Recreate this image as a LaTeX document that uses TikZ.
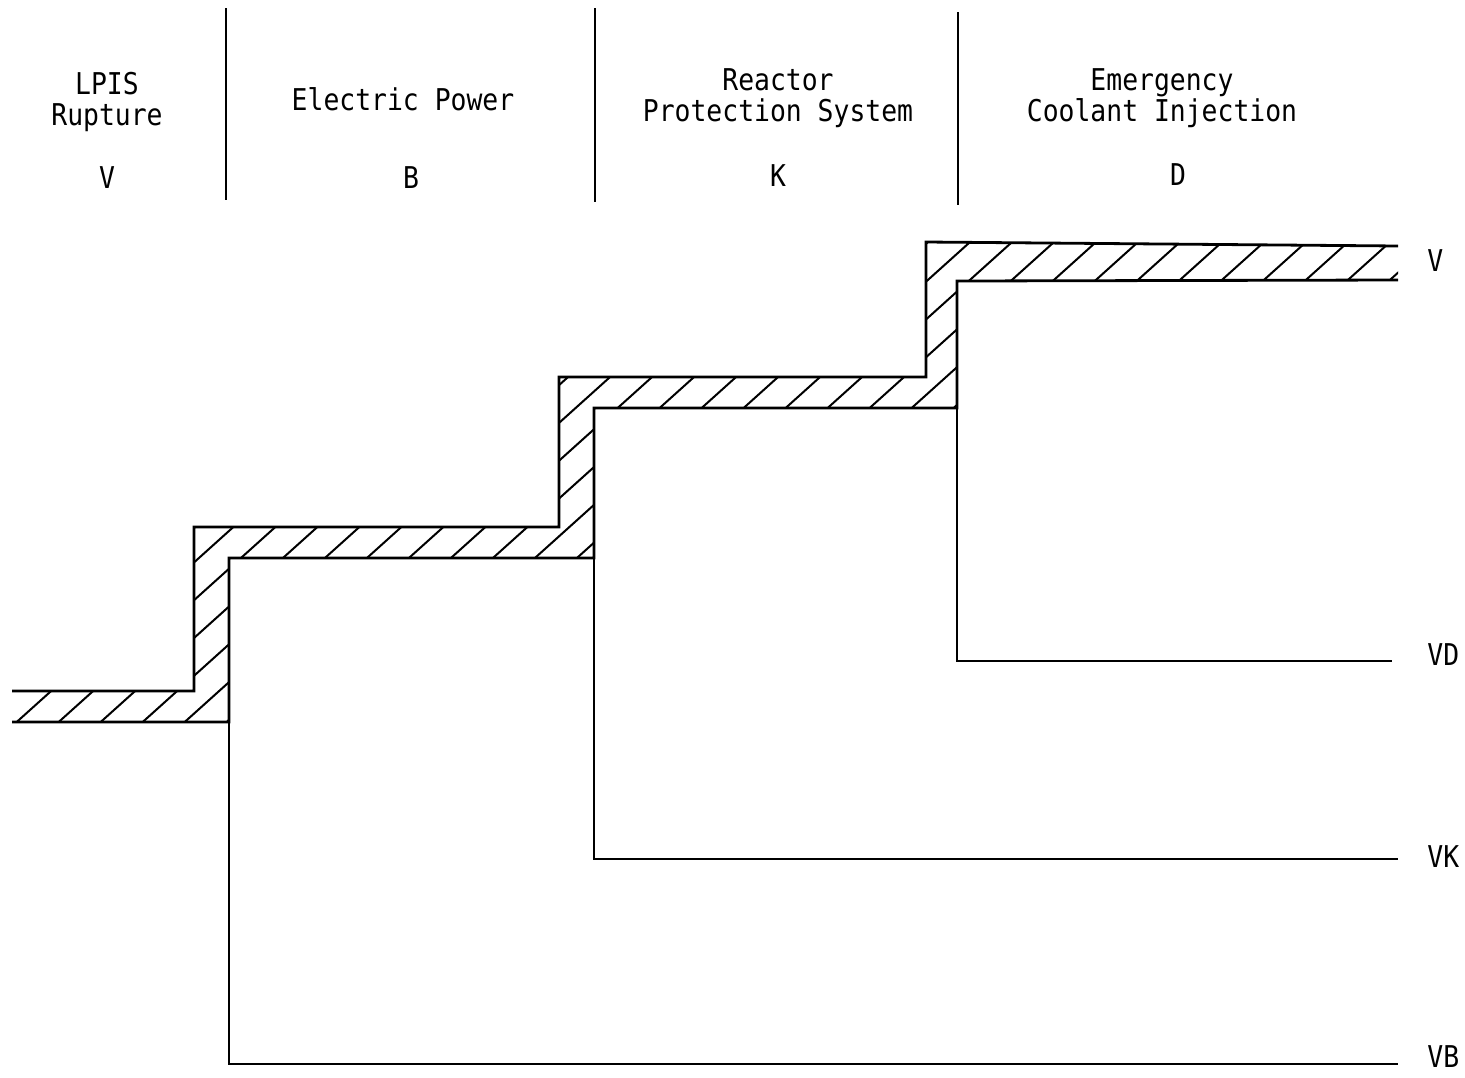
\documentclass[tikz,border=0pt]{standalone}
\usepackage{fontspec}
\setmonofont[FakeStretch=0.88]{DejaVu Sans Mono}
\usetikzlibrary{positioning}

\begin{document}
\begin{tikzpicture}[
    x=0.5pt, y=-0.5pt,
    branch/.style={line width=1.4pt},
    hatch/.style={line width=1pt},
    divider/.style={line width=1.1pt},
    head/.style={
      font=\ttfamily\fontsize{15}{15.5}\selectfont,
      align=center,
      inner sep=0pt
    },
    endlabel/.style={
      font=\ttfamily\fontsize{15}{15.5}\selectfont,
      anchor=west,
      inner sep=0pt
    }
  ]
    \useasboundingbox (0,0) rectangle (1465,1077);

    % column headings
    \node[head] (lpis) at (107,102) {LPIS\\Rupture};
    \node[head] (lpisV) at (107,178) {V};
    \node[head] (elec) at (403,99) {Electric Power};
    \node[head] (elecB) at (411,178) {B};
    \node[head] (rps) at (778,98) {Reactor\\Protection System};
    \node[head] (rpsK) at (778,176) {K};
    \node[head] (eci) at (1162,98) {Emergency\\Coolant Injection};
    \node[head] (eciD) at (1178,175) {D};

    \draw[divider] (226,8) -- (226,200);
    \draw[divider] (595,8) -- (595,202);
    \draw[divider] (958,12) -- (958,205);

    % hatched success path
    \begin{scope}
      \clip (12,691) -| (194,527) -| (559,377) -| (926,242) -- (1398,246)
        -- (1398,280) -- (957,281) |- (594,408) |- (229,558) |- (12,722) -- cycle;
      \foreach \i in {0,...,58}
        \draw[hatch] ({-994+42*\i},800) -- ++(889,-800);
    \end{scope}
    \draw[branch] (12,691) -| (194,527) -| (559,377) -| (926,242) -- (1398,246);
    \draw[branch] (12,722) -| (229,558) -| (594,408) -| (957,281) -- (1398,280);

    % branch points
    \coordinate (bB) at (229,722);
    \coordinate (bK) at (594,558);
    \coordinate (bD) at (957,408);

    % failure branches
    \draw[branch] (bB) |- (1398,1064);
    \draw[branch] (bK) |- (1398,859);
    \draw[branch] (bD) |- (1392,661);

    % sequence labels
    \node[endlabel] (seqV) at (1427,261) {V};
    \node[endlabel] (seqVD) at (1427,655) {VD};
    \node[endlabel] (seqVK) at (1427,857) {VK};
    \node[endlabel] (seqVB) at (1427,1057) {VB};
  \end{tikzpicture}
\end{document}
